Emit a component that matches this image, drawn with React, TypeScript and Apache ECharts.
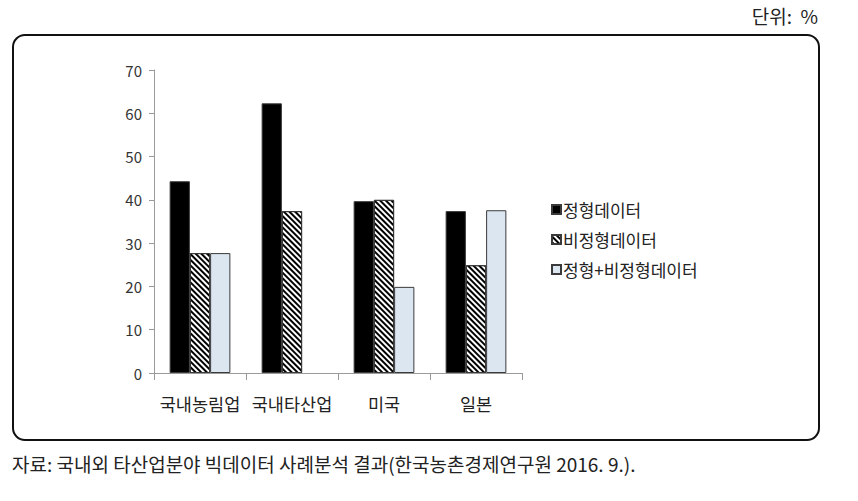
import React, { useEffect, useRef } from "react";
import * as echarts from "echarts";

const categories = ["국내농림업", "국내타산업", "미국", "일본"];
const seriesNames = ["정형데이터", "비정형데이터", "정형+비정형데이터"];
const structured = [44.3, 62.3, 39.7, 37.4];
const unstructured = [27.7, 37.4, 40.0, 24.9];
const combined = [27.7, null, 19.9, 37.6];
const yTicks = { min: 0, max: 70, interval: 10 };

const FONT = "'Noto Sans CJK KR', 'Noto Sans', sans-serif";

export default function App() {
  const ref = useRef<HTMLDivElement>(null);
  useEffect(() => {
    if (!ref.current) return;
    const chart = echarts.init(ref.current, undefined, { renderer: "svg" });
    const border = { borderColor: "#3a3a3a", borderWidth: 1 };
    chart.setOption({
      animation: false,
      backgroundColor: "#ffffff",
      textStyle: { fontFamily: FONT },
      grid: { left: 154, right: 336, top: 70, bottom: 128 },
      legend: {
        orient: "vertical",
        left: 546,
        top: 196,
        itemGap: 13,
        itemWidth: 9,
        itemHeight: 9,
        icon: "rect",
        textStyle: { fontSize: 17, color: "#222", fontFamily: FONT, padding: [0, 0, 0, -3] },
        data: seriesNames,
      },
      xAxis: {
        type: "category",
        data: categories,
        axisLine: { lineStyle: { color: "#9a9a9a", width: 1 } },
        axisTick: { show: true, length: 7, lineStyle: { color: "#9a9a9a" } },
        axisLabel: { interval: 0, fontSize: 17.5, color: "#222", margin: 22, fontFamily: FONT },
      },
      yAxis: {
        type: "value",
        min: yTicks.min,
        max: yTicks.max,
        interval: yTicks.interval,
        axisLine: { show: true, lineStyle: { color: "#9a9a9a", width: 1 } },
        axisTick: { show: true, length: 5, lineStyle: { color: "#9a9a9a" } },
        splitLine: { show: false },
        axisLabel: { fontSize: 15, color: "#333", margin: 12, fontFamily: FONT },
      },
      series: [
        {
          name: seriesNames[0],
          type: "bar",
          data: structured,
          barGap: "0%",
          barCategoryGap: "34%",
          itemStyle: { color: "#000000", ...border },
        },
        {
          name: seriesNames[1],
          type: "bar",
          data: unstructured,
          barGap: "0%",
          barCategoryGap: "34%",
          itemStyle: {
            color: "#ffffff",
            ...border,
            decal: {
              symbol: "rect",
              symbolSize: 1,
              color: "#000000",
              backgroundColor: "#ffffff",
              dashArrayX: [1, 0],
              dashArrayY: [2, 1.5],
              rotation: Math.PI / 4,
            },
          },
        },
        {
          name: seriesNames[2],
          type: "bar",
          data: combined,
          barGap: "0%",
          barCategoryGap: "34%",
          itemStyle: { color: "#dce6f1", ...border },
        },
      ],
      graphic: [
        {
          type: "rect",
          shape: { x: 13, y: 35, width: 806, height: 405, r: 12 },
          style: { fill: "none", stroke: "#111", lineWidth: 2 },
          z: 100,
        },
        {
          type: "text",
          right: 40,
          top: 6,
          style: { text: "단위:  %", fontSize: 19, fill: "#222", fontFamily: FONT },
        },
        {
          type: "text",
          left: 12,
          top: 454,
          style: {
            text: "자료: 국내외 타산업분야 빅데이터 사례분석 결과(한국농촌경제연구원 2016. 9.).",
            fontSize: 19,
            fill: "#222",
            fontFamily: FONT,
          },
        },
      ],
    });
    return () => chart.dispose();
  }, []);
  return (
    <div
      ref={ref}
      style={{ position: "fixed", left: 0, top: 0, width: 858, height: 501 }}
    />
  );
}
